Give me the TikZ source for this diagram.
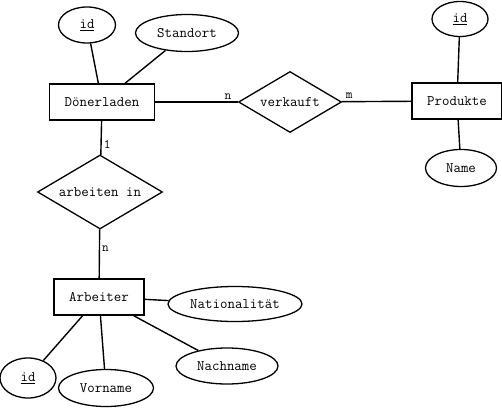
\documentclass[tikz,border=0pt]{standalone}
\usetikzlibrary{shapes.geometric, positioning}
\tikzset{
    every node/.style={ % Schrift fuer alle Knoten
        font=\ttfamily\fontsize{14.5}{16}\selectfont
    },
    entity/.style={ % Entitaeten
        draw, rectangle, line width=1.6pt, inner sep=0pt,
        minimum height=36pt
    },
    attribute/.style={ % Attribute
        draw, ellipse, line width=1.3pt, inner sep=0pt,
        minimum height=36pt
    },
    relation/.style={ % Beziehungen
        draw, diamond, aspect=1.7, line width=1.3pt, inner sep=0pt
    },
    card/.style={ % Kardinalitaeten
        font=\ttfamily\fontsize{13}{14}\selectfont, inner sep=2pt
    },
    every edge/.style={ % Verbindungen
        draw,
        line width=1.4pt
    }
}

\begin{document}
\begin{tikzpicture}[x=1pt, y=-1pt]
    \useasboundingbox (0,0) rectangle (502,409);
    % entitaeten
    \node[entity, minimum width=105pt]      (doener)    at (102,102) {Dönerladen};
    \node[entity, minimum width=90pt]       (produkte)  at (457,101) {Produkte};
    \node[entity, minimum width=90pt]       (arbeiter)  at (99,297)  {Arbeiter};
    % beziehungen
    \node[relation, minimum width=103pt,
          minimum height=61pt]              (verkauft)  at (290,102) {verkauft};
    \node[relation, minimum width=125pt,
          minimum height=74pt]              (arbeitet)  at (100,192) {arbeiten in};
    % attribute oben
    \node[attribute, minimum width=57pt]    (did)       at (87,25)   {\underline{id}};
    \node[attribute, minimum width=103pt,
          minimum height=37pt]              (standort)  at (187,33)  {Standort};
    \node[attribute, minimum width=56pt,
          minimum height=35pt]              (pid)       at (460,19)  {\underline{id}};
    \node[attribute, minimum width=71pt,
          minimum height=37pt]              (name)      at (461,168) {Name};
    % attribute unten
    \node[attribute, minimum width=134pt,
          minimum height=35pt]              (nation)    at (235,304) {Nationalität};
    \node[attribute, minimum width=102pt]   (nachname)  at (227,366) {Nachname};
    \node[attribute, minimum width=95pt,
          minimum height=37pt]              (vorname)   at (106,388) {Vorname};
    \node[attribute, minimum width=56pt,
          minimum height=40pt]              (aid)       at (28,378)  {\underline{id}};

    \draw
            % beziehungen
            (doener)    edge    node[card, pos=0.88, above]  {n}  (verkauft)
            (verkauft)  edge    node[card, pos=0.11, above]  {m}  (produkte)
            (doener)    edge    node[card, pos=0.7, right]   {1}  (arbeitet)
            (arbeitet)  edge    node[card, pos=0.4, right]   {n}  (arbeiter)
            % attribute
            (did)       edge    (doener)
            (standort)  edge    (doener)
            (pid)       edge    (produkte)
            (name)      edge    (produkte)
            (nation)    edge    (arbeiter)
            (nachname)  edge    (arbeiter)
            (vorname)   edge    (arbeiter)
            (aid)       edge    (arbeiter)
    ;
\end{tikzpicture}
\end{document}
